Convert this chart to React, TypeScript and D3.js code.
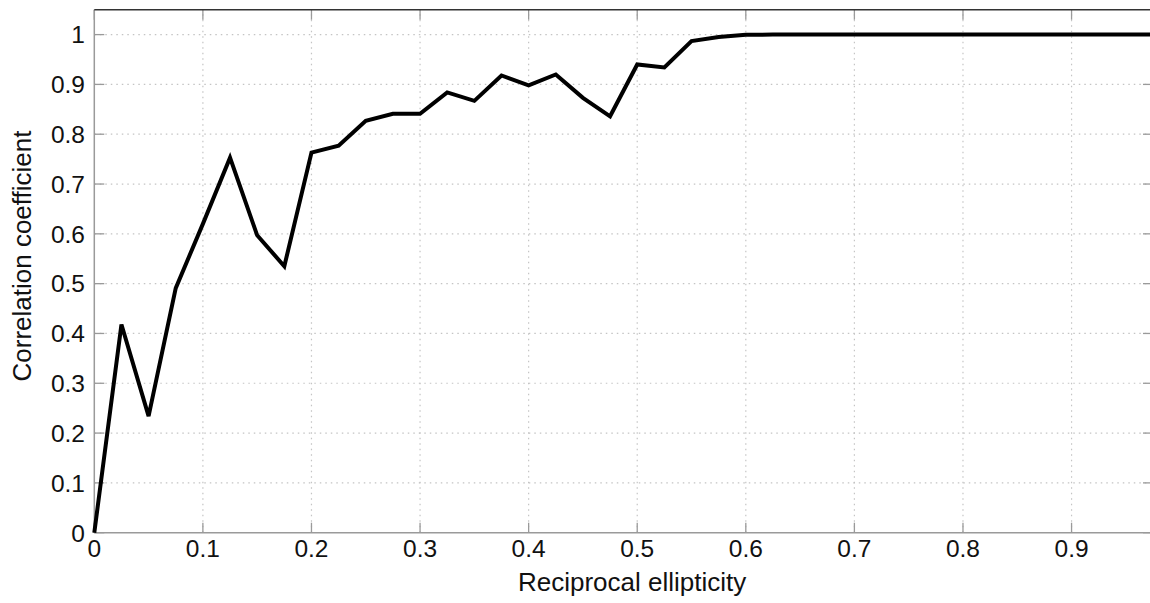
import React from "react";
import * as d3 from "d3";

const xValues = [
  0, 0.025, 0.05, 0.075, 0.1, 0.125, 0.15, 0.175, 0.2, 0.225, 0.25, 0.275, 0.3,
  0.325, 0.35, 0.375, 0.4, 0.425, 0.45, 0.475, 0.5, 0.525, 0.55, 0.575, 0.6,
  0.625, 0.65, 0.675, 0.7, 0.725, 0.75, 0.775, 0.8, 0.825, 0.85, 0.875, 0.9,
  0.925, 0.95, 0.975,
];
const yValues = [
  0, 0.418, 0.234, 0.491, 0.62, 0.753, 0.597, 0.535, 0.763, 0.777, 0.827,
  0.841, 0.841, 0.884, 0.867, 0.918, 0.898, 0.92, 0.873, 0.836, 0.94, 0.934,
  0.987, 0.995, 0.9995, 1, 1, 1, 1, 1, 1, 1, 1, 1, 1, 1, 1, 1, 1, 1,
];
const xTicks = [0, 0.1, 0.2, 0.3, 0.4, 0.5, 0.6, 0.7, 0.8, 0.9];
const yTicks = [0, 0.1, 0.2, 0.3, 0.4, 0.5, 0.6, 0.7, 0.8, 0.9, 1];
const xLabel = "Reciprocal ellipticity";
const yLabel = "Correlation coefficient";

const W = 1150;
const H = 603;
const left = 94.3;
const right = 1153;
const top = 9.7;
const bottom = 532.7;

export default function App() {
  const x = d3.scaleLinear().domain([0, 0.975]).range([left, right]);
  const y = d3.scaleLinear().domain([0, 1.05]).range([bottom, top]);
  const pts = xValues.map((v, i) => [v, yValues[i]] as [number, number]);
  const line = d3
    .line<[number, number]>()
    .x((d) => x(d[0]))
    .y((d) => y(d[1]));
  const font = "'Liberation Sans', Arial, Helvetica, sans-serif";
  const tickLen = 10;
  const axisGray = "#9a9a9a";
  return (
    <svg
      width={W}
      height={H}
      style={{ position: "absolute", left: 0, top: 0, background: "#fff" }}
      fontFamily={font}
    >
      <rect x={0} y={0} width={W} height={H} fill="#fff" />
      {/* grid */}
      {xTicks.slice(1).map((t) => (
        <line
          key={"gx" + t}
          x1={x(t)}
          x2={x(t)}
          y1={bottom}
          y2={top}
          stroke="#c4c4c4"
          strokeWidth={1.2}
          strokeDasharray="1.5,4"
        />
      ))}
      {yTicks.slice(1).map((t) => (
        <line
          key={"gy" + t}
          x1={left}
          x2={right}
          y1={y(t)}
          y2={y(t)}
          stroke="#c4c4c4"
          strokeWidth={1.2}
          strokeDasharray="1.5,4"
        />
      ))}
      {/* ticks */}
      {xTicks.map((t) => (
        <g key={"tx" + t}>
          <line x1={x(t)} x2={x(t)} y1={bottom} y2={bottom - tickLen} stroke={axisGray} strokeWidth={1.3} />
          <line x1={x(t)} x2={x(t)} y1={top} y2={top + tickLen} stroke={axisGray} strokeWidth={1.3} />
          <text
            x={x(t)}
            y={557}
            textAnchor="middle"
            fontSize={24.5}
            fill="#111"
          >
            {d3.format("~g")(t)}
          </text>
        </g>
      ))}
      {yTicks.map((t) => (
        <g key={"ty" + t}>
          <line x1={left} x2={left + tickLen} y1={y(t)} y2={y(t)} stroke={axisGray} strokeWidth={1.3} />
          <line x1={right} x2={right - tickLen} y1={y(t)} y2={y(t)} stroke={axisGray} strokeWidth={1.3} />
          <text
            x={85}
            y={y(t)}
            dy="0.36em"
            textAnchor="end"
            fontSize={24.5}
            fill="#111"
          >
            {d3.format("~g")(t)}
          </text>
        </g>
      ))}
      {/* axes box */}
      <line x1={left} x2={left} y1={top} y2={bottom} stroke={axisGray} strokeWidth={1.5} />
      <line x1={left} x2={right} y1={bottom} y2={bottom} stroke={axisGray} strokeWidth={1.5} />
      <line x1={left} x2={right} y1={top} y2={top} stroke="#333" strokeWidth={1.5} />
      <line x1={right} x2={right} y1={top} y2={bottom} stroke="#333" strokeWidth={1.5} />
      {/* data */}
      <path d={line(pts) ?? ""} fill="none" stroke="#000" strokeWidth={4} strokeLinejoin="miter" />
      {/* labels */}
      <text x={(left + 1150) / 2 + 10} y={591} textAnchor="middle" fontSize={26} fill="#111">
        {xLabel}
      </text>
      <text
        transform={`translate(31, 256) rotate(-90)`}
        textAnchor="middle"
        fontSize={26}
        fill="#111"
      >
        {yLabel}
      </text>
    </svg>
  );
}
